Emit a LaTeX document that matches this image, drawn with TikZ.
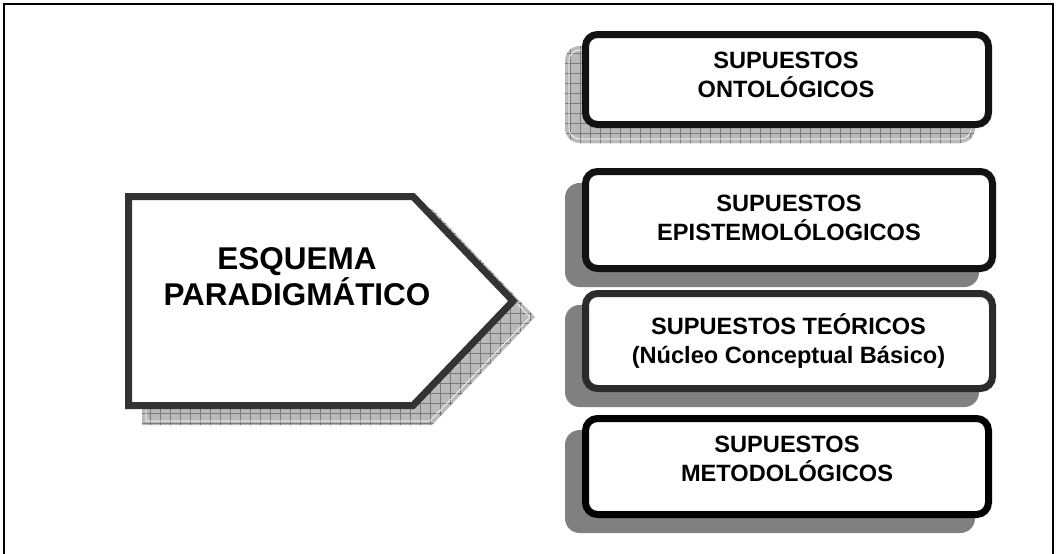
\documentclass[tikz,border=0pt]{standalone}
\usepackage{fontspec}
\setmainfont{Liberation Sans}
\usetikzlibrary{backgrounds,patterns.meta}

\tikzset{
  supbox/.style={draw=black!93, line width=5.25pt, fill=white, rounded corners=9pt,
    outer sep=0pt, inner sep=0pt},
  suptext/.style={font=\fontsize{17.7}{21.75}\selectfont\bfseries, align=center, inner sep=0pt},
  bigtext/.style={font=\fontsize{23.6}{25.5}\selectfont\bfseries, align=center, inner sep=0pt},
  solidshade/.style={fill=black!50},
  hatchshade/.style={fill=black!27,
    postaction={pattern={Lines[angle=0,distance=7.5pt,line width=0.5pt]}, pattern color=black!52},
    postaction={pattern={Lines[angle=90,distance=7.5pt,line width=0.5pt]}, pattern color=black!52}},
}

\begin{document}
\begin{tikzpicture}[x=0.75pt,y=0.75pt,yscale=-1,xscale=1]
  \useasboundingbox (0,0) rectangle (1059,553);

  % Frame
  \draw[line width=1.2pt] (4,575) -- (4,4) -- (1053,4) -- (1053,575);

  % Pentagon with its shadow
  \fill[hatchshade] (142,209) -- (432,209) -- (535,317) -- (432,425) -- (142,425) -- cycle;
  \draw[white, line width=0.5pt] (146,213) -- (430,213) -- (530,317) -- (430,421) -- (146,421) -- cycle;
  \draw[draw=black!80, line width=5.25pt, fill=white, miter limit=4]
    (128.5,196.5) -- (413,196.5) -- (513,301) -- (413,405.5) -- (128.5,405.5) -- cycle;
  \node[bigtext] (esquema) at (297,276.5) {ESQUEMA\\PARADIGMÁTICO};

  % Supuestos
  \node[supbox, minimum width=302.25pt, minimum height=67.5pt] (ont) at (787,79.5) {};
  \node[supbox, minimum width=305.25pt, minimum height=72.75pt] (epi) at (789,220) {};
  \node[supbox, draw=black!83, minimum width=305.25pt, minimum height=71.25pt] (teo) at (789,341) {};
  \node[supbox, draw=black, minimum width=302.25pt, minimum height=72pt] (met) at (787,466.5) {};

  \node[suptext] (ont-text) at (786,74.5) {SUPUESTOS\\ONTOLÓGICOS};
  \node[suptext] (epi-text) at (789,218) {SUPUESTOS\\EPISTEMOLÓLOGICOS};
  \node[suptext] (teo-text) at (788.5,341) {SUPUESTOS TEÓRICOS\\(Núcleo Conceptual Básico)};
  \node[suptext] (met-text) at (787,458.6) {SUPUESTOS\\METODOLÓGICOS};

  % Shadows behind the boxes
  \begin{scope}[on background layer]
    \foreach \n/\s in {ont/hatchshade, epi/solidshade, teo/solidshade, met/solidshade}
      \path[\s, rounded corners=11pt] ([shift={(-20.5,18.5)}]\n.south west) rectangle ([shift={(-13.5,11.5)}]\n.north east);
    \draw[white, line width=0.5pt, rounded corners=8pt]
      ([shift={(-16.5,14.5)}]ont.south west) rectangle ([shift={(-17.5,15.5)}]ont.north east);
  \end{scope}
\end{tikzpicture}
\end{document}
